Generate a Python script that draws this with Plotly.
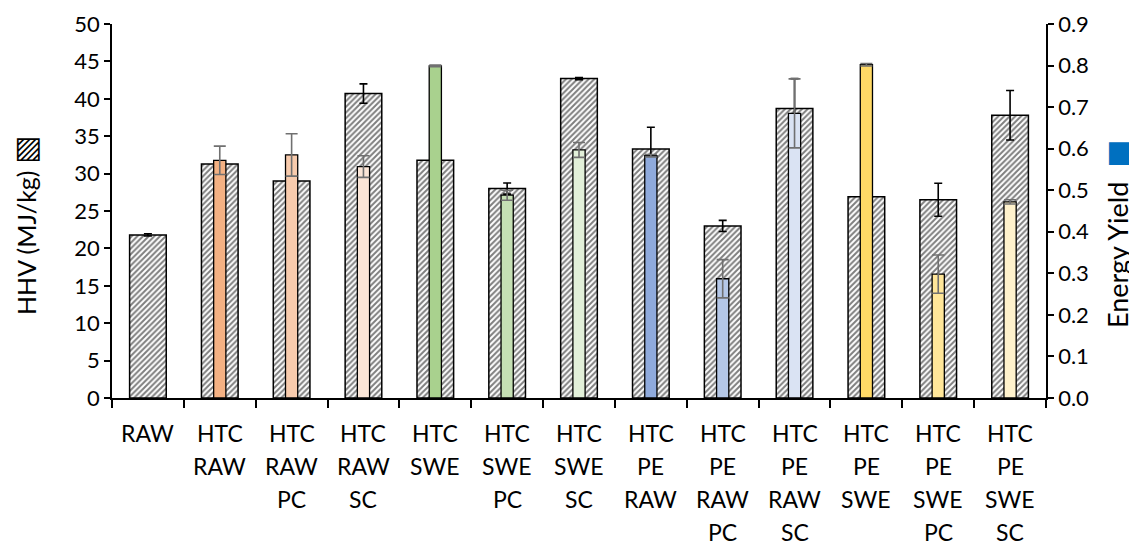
import plotly.graph_objects as go

categories = ["RAW", "HTC RAW", "HTC RAW PC", "HTC RAW SC", "HTC SWE", "HTC SWE PC", "HTC SWE SC",
              "HTC PE RAW", "HTC PE RAW PC", "HTC PE RAW SC", "HTC PE SWE", "HTC PE SWE PC", "HTC PE SWE SC"]
hhv = [21.8, 31.3, 29.0, 40.7, 31.8, 28.0, 42.7, 33.3, 23.0, 38.7, 26.9, 26.5, 37.8]
hhv_err = [0.15, 0.4, 0.3, 1.3, 0.2, 0.75, 0.15, 2.9, 0.75, 4.0, 0.2, 2.2, 3.3]
energy_yield = [None, 0.572, 0.585, 0.557, 0.799, 0.488, 0.597, 0.583, 0.287, 0.685, 0.802, 0.298, 0.472]
ey_err = [0, 0.034, 0.051, 0.026, 0.002, 0.012, 0.018, 0.003, 0.046, 0.083, 0.003, 0.046, 0.005]
ey_colors = ["#FFFFFF", "#F4B183", "#F8CBAD", "#FBE5D6", "#A9D18E", "#C5E0B4", "#E2F0D9",
             "#8FAADC", "#B4C7E7", "#DAE3F3", "#FFD966", "#FFE699", "#FFF2CC"]
left_ticks = list(range(0, 51, 5))
right_ticks = [i / 10 for i in range(0, 10)]

FONT = "Lato, Carlito, Calibri, sans-serif"

fig = go.Figure()
fig.add_trace(go.Bar(
    x=categories, y=hhv, width=0.51, yaxis="y",
    marker=dict(color="white", line=dict(color="black", width=1.5),
                pattern=dict(shape="/", fgcolor="black", bgcolor="white", size=4, solidity=0.5)),
    error_y=dict(type="data", array=hhv_err, color="black", thickness=1.6, width=4),
    showlegend=False,
))
fig.add_trace(go.Bar(
    x=categories, y=energy_yield, width=0.17, yaxis="y2",
    marker=dict(color=ey_colors, line=dict(color="black", width=1.3)),
    error_y=dict(type="data", array=ey_err, color="#707070", thickness=1.6, width=6),
    showlegend=False,
))

# page body has an 8px margin, so the figure is sized to fit the 1137x545 window
fig.update_layout(
    width=1129, height=537,
    margin=dict(l=104, r=91, t=16, b=147, autoexpand=False),
    paper_bgcolor="white", plot_bgcolor="white",
    barmode="overlay",
    font=dict(family=FONT, size=22, color="black"),
    xaxis=dict(type="category", showticklabels=False, ticks="outside", tickson="boundaries",
               ticklen=8, tickwidth=1.5, tickcolor="black", showline=True, linecolor="black",
               linewidth=1.5, showgrid=False, automargin=False),
    yaxis=dict(range=[0, 50], tickvals=left_ticks, ticks="outside", ticklen=6, tickwidth=1.5,
               tickcolor="black", showline=True, linecolor="black", linewidth=1.5, showgrid=False,
               zeroline=False, tickfont=dict(size=22), automargin=False),
    yaxis2=dict(range=[0, 0.9], tickvals=right_ticks, tickformat=".1f", overlaying="y", side="right",
                ticks="outside", ticklen=6, tickwidth=1.5, tickcolor="black", showline=True,
                linecolor="black", linewidth=1.5, showgrid=False, zeroline=False, tickfont=dict(size=22),
                automargin=False),
)

# multi-line category labels
for cat in categories:
    for i, word in enumerate(cat.split(" ")):
        fig.add_annotation(x=cat, xref="x", y=0, yref="paper", yshift=-34.5 - 33 * i,
                           text=word, showarrow=False, yanchor="middle", xanchor="center",
                           font=dict(size=23, family=FONT))

# axis titles with legend keys
fig.add_annotation(x=0, xref="paper", xshift=-87, y=0.5, yref="paper", yshift=-15,
                   text="HHV (MJ/kg) <span style='font-size:30px;font-family:DejaVu Sans'>\u25A7</span>",
                   textangle=-90, showarrow=False,
                   xanchor="center", yanchor="middle", font=dict(size=25, family=FONT))
fig.add_annotation(x=1, xref="paper", xshift=71, y=0.5, yref="paper", yshift=-23,
                   text="Energy Yield  <span style='color:#0070C0;font-size:30px;font-family:DejaVu Sans'>\u25A0</span>",
                   textangle=-90, showarrow=False,
                   xanchor="center", yanchor="middle", font=dict(size=27, family=FONT))

fig.write_html("out.html")
